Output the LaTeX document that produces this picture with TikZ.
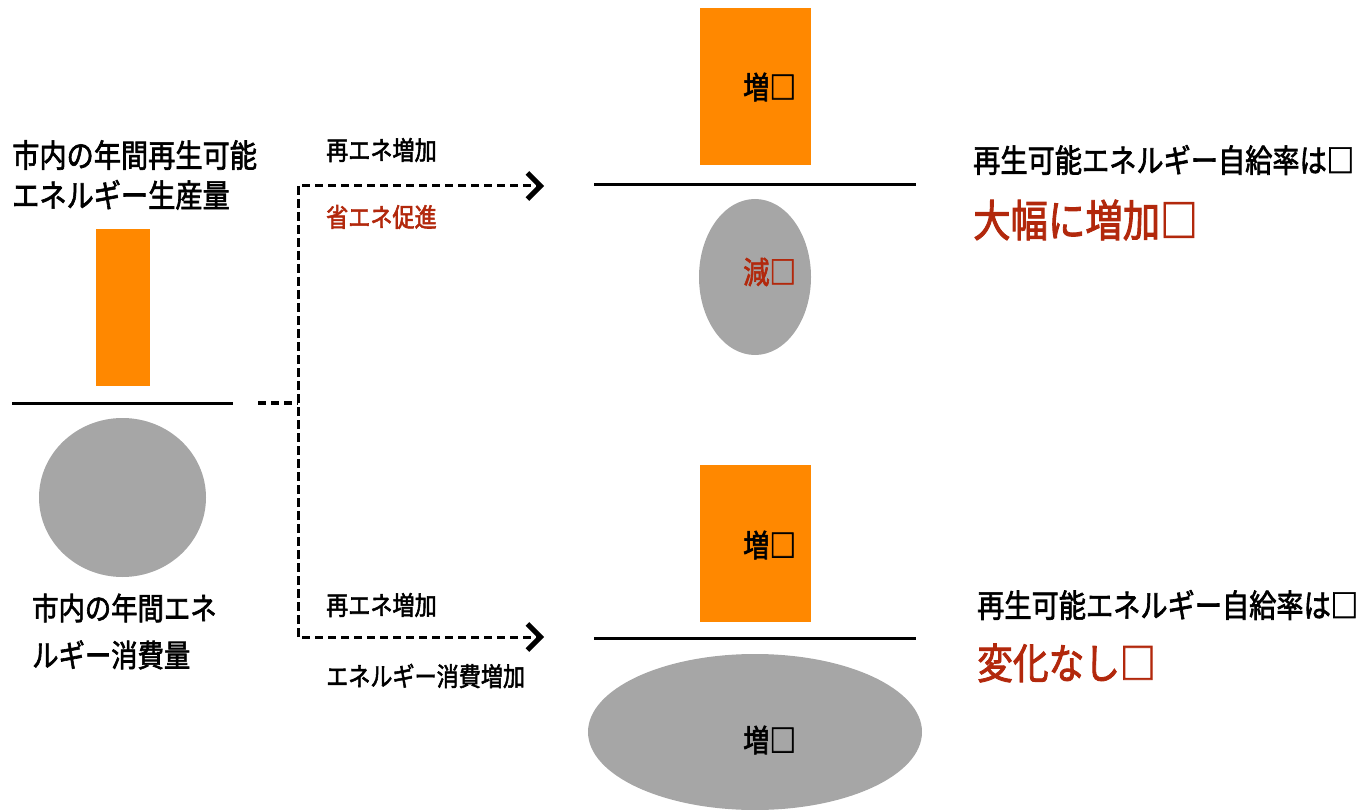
\documentclass[tikz,border=0pt]{standalone}
\usepackage{fontspec}
\usepackage{xcolor}
\usepackage{tikz}
\usetikzlibrary{arrows.meta,shapes.geometric}
\newfontfamily\jpfont[FakeStretch=0.85,FakeBold=2]{Noto Sans CJK JP}
\definecolor{barorange}{RGB}{255,136,0}
\definecolor{discgray}{RGB}{166,166,166}
\definecolor{notered}{RGB}{178,40,12}

\tikzset{
	bar/.style={fill=barorange, inner sep=0pt},
	disc/.style={ellipse, fill=discgray, inner sep=0pt},
	jptext/.style={font=\jpfont\fontsize{#1}{#1}\selectfont, anchor=west, inner sep=0pt, align=left},
	flow/.style={dashed, dash pattern=on 8pt off 5pt, line width=3pt},
	flowtip/.style={-{Straight Barb[length=13pt,width=26pt,line width=5pt]}},
	baseline/.style={line width=3pt}
}

\begin{document}
\begin{tikzpicture}[x=1pt,y=-1pt]
		\useasboundingbox (0,0) rectangle (1357,810);
		% left: production and consumption
		\node[jptext=32, font=\jpfont\fontsize{32}{40}\selectfont] (prodlabel) at (12,175) {市内の年間再生可能\\エネルギー生産量};
		\node[bar, minimum width=54pt, minimum height=157pt] (prodbar) at (123,307.5) {};
		\coordinate (L0) at (12,403);
		\coordinate (L1) at (233,403);
		\draw[baseline] (L0) -- (L1);
		\node[disc, minimum width=167pt, minimum height=159pt] (usedisc) at (122.5,497.5) {};
		\node[jptext=31, font=\jpfont\fontsize{31}{47}\selectfont] (uselabel) at (32,631.5) {市内の年間エネ\\ルギー消費量};
		% branching dashed arrows
		\coordinate (S0) at (258,403);
		\coordinate (S1) at (298,403);
		\coordinate (T0) at (298,186);
		\coordinate (T1) at (544,186);
		\coordinate (B0) at (298,637);
		\coordinate (B1) at (544,637);
		\draw[flow, line width=4pt] (S0) -- (S1);
		\draw[flow, flowtip] (B0) -- (T0) -- (T1);
		\draw[flow, flowtip] (T0) -- (B0) -- (B1);
		\node[jptext=26] (upA) at (326,150) {再エネ増加};
		\node[jptext=26, text=notered] (downA) at (326,217) {省エネ促進};
		\node[jptext=26] (upB) at (326,605) {再エネ増加};
		\node[jptext=26] (downB) at (326,676) {エネルギー消費増加};
		% right top: case A
		\node[bar, minimum width=111pt, minimum height=157pt] (barA) at (755.5,86.5) {};
		\node[jptext=31] (barAtxt) at (743,87) {増□};
		\coordinate (RA0) at (594,185);
		\coordinate (RA1) at (916,185);
		\draw[baseline] (RA0) -- (RA1);
		\node[disc, minimum width=112pt, minimum height=156pt] (discA) at (755,277) {};
		\node[jptext=31, text=notered] (discAtxt) at (743,272) {減□};
		\node[jptext=32] (rateA) at (973,160) {再生可能エネルギー自給率は□};
		\node[jptext=44, text=notered] (resultA) at (973,220) {大幅に増加□};
		% right bottom: case B
		\node[bar, minimum width=111pt, minimum height=157pt] (barB) at (755.5,543.5) {};
		\node[jptext=31] (barBtxt) at (743,545) {増□};
		\coordinate (RB0) at (594,638);
		\coordinate (RB1) at (916,638);
		\draw[baseline] (RB0) -- (RB1);
		\node[disc, minimum width=334pt, minimum height=156pt] (discB) at (755,732) {};
		\node[jptext=31] (discBtxt) at (743,740) {増□};
		\node[jptext=32] (rateB) at (977,605) {再生可能エネルギー自給率は□};
		\node[jptext=42, text=notered] (resultB) at (977,663) {変化なし□};
	\end{tikzpicture}
\end{document}
